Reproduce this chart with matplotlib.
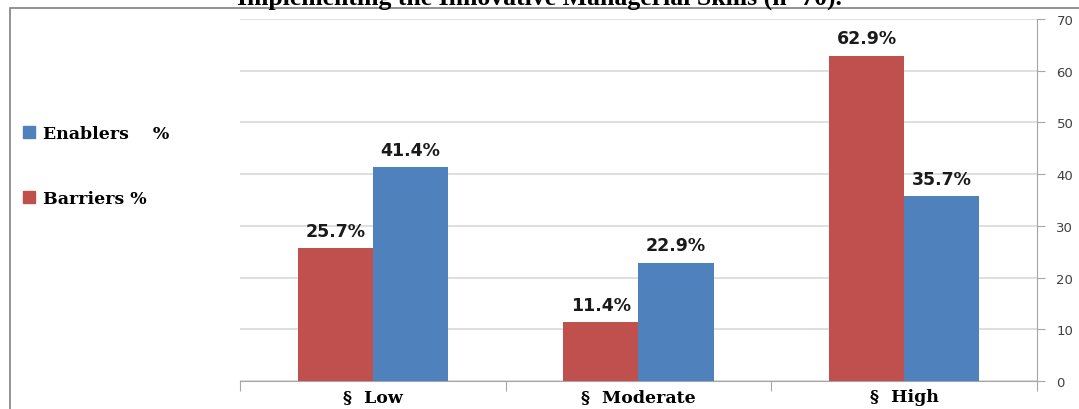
import numpy as np
import matplotlib.pyplot as plt
from matplotlib.patches import Rectangle
from matplotlib.lines import Line2D

# data
levels = ['§  Low', '§  Moderate', '§  High']
barriers = [25.7, 11.4, 62.9]
enablers = [41.4, 22.9, 35.7]
y_ticks = [0, 10, 20, 30, 40, 50, 60, 70]

RED = '#C0504D'
BLUE = '#4F81BD'
GRID = '#D9D9D9'
AXIS = '#A6A6A6'

fig = plt.figure(figsize=(10.79, 4.10), dpi=100)
ax = fig.add_axes([0.2224, 0.0683, 0.7387, 0.8829])

x = np.arange(len(levels))
w = 0.283
bars_r = ax.bar(x - w / 2, barriers, width=w, color=RED, zorder=3)
bars_b = ax.bar(x + w / 2, enablers, width=w, color=BLUE, zorder=3)

for bars in (bars_r, bars_b):
    for b in bars:
        ax.annotate(f'{b.get_height():.1f}%',
                    (b.get_x() + b.get_width() / 2, b.get_height()),
                    xytext=(0, 6), textcoords='offset points',
                    ha='center', va='bottom', fontsize=12.5,
                    fontweight='bold', family='DejaVu Sans', color='#1a1a1a')

ax.set_xlim(-0.5, 2.5)
ax.set_ylim(0, 70)
ax.set_yticks(y_ticks)
ax.yaxis.tick_right()
ax.tick_params(axis='y', length=6, color=AXIS, labelsize=9.5, labelcolor='#404040', pad=8)
ax.grid(axis='y', color=GRID, linewidth=1.2, zorder=0)

# x axis: ticks at the category borders, labels in the middle
ax.set_xticks([-0.5, 0.5, 1.5, 2.5])
ax.set_xticklabels([])
ax.tick_params(axis='x', length=7, color=AXIS)
ax.set_xticks(x, minor=True)
ax.set_xticklabels(levels, minor=True, fontsize=12.5, fontweight='bold',
                   family='DejaVu Serif')
ax.tick_params(axis='x', which='minor', length=0, pad=5)

for s in ['top', 'left']:
    ax.spines[s].set_visible(False)
ax.spines['right'].set_color(AXIS)
ax.spines['bottom'].set_color(AXIS)

# legend on the left
handles = [Line2D([], [], marker='s', linestyle='', color=BLUE, markersize=8),
           Line2D([], [], marker='s', linestyle='', color=RED, markersize=8)]
fig.legend(handles, ['Enablers    %', 'Barriers %'], loc='upper left',
           bbox_to_anchor=(0.006, 0.731), frameon=False, handlelength=0.8,
           handletextpad=0.4, labelspacing=2.75,
           prop={'family': 'DejaVu Serif', 'weight': 'bold', 'size': 12.5})

# outer frame and the cut-off title above it
fig.add_artist(Rectangle((10 / 1079, -0.05), 1.1, 0.05 + 1 - 9 / 410,
                         transform=fig.transFigure, fill=False,
                         edgecolor='#808080', linewidth=1.2))
fig.text(0.5, 1 - 5 / 410, 'Implementing the Innovative Managerial Skills (n=70).',
         ha='center', va='baseline', fontsize=18.5, fontweight='bold',
         family='Liberation Serif')

fig.savefig('out.png', dpi=100)
